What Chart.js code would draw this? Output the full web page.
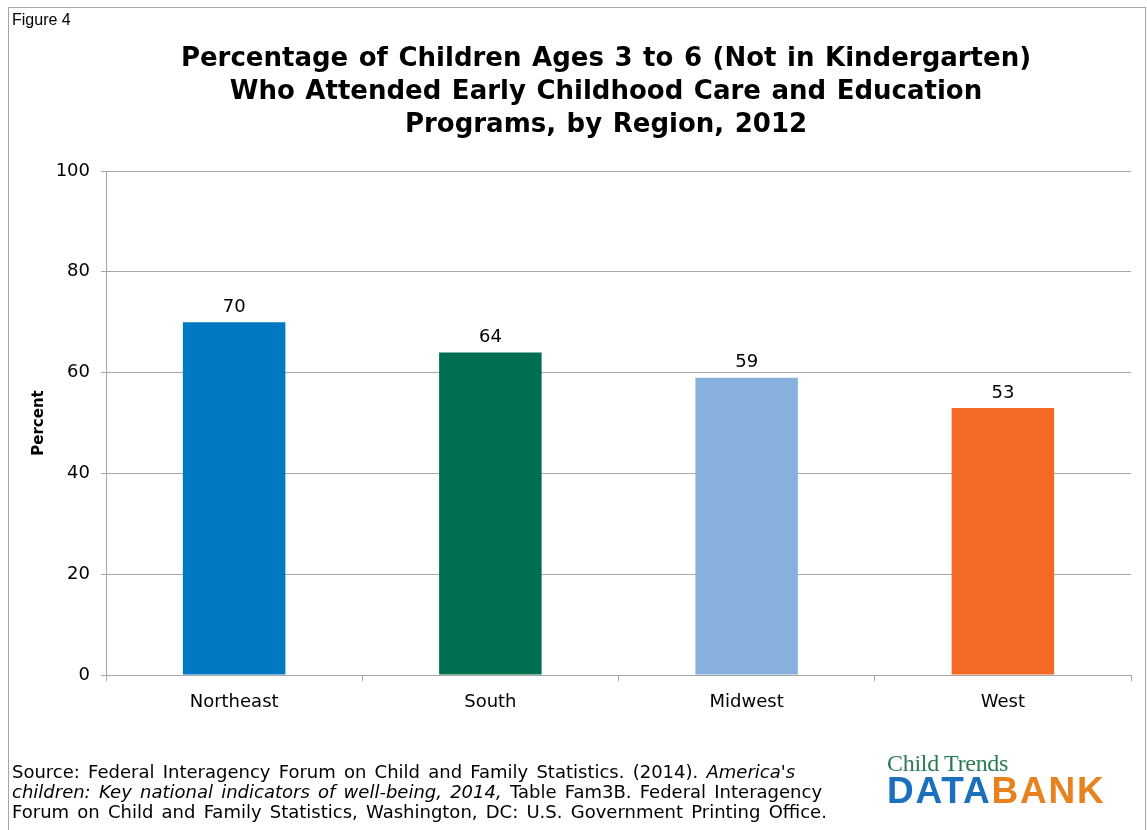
<!DOCTYPE html>
<html>
<head>
<meta charset="utf-8">
<script src="https://cdn.jsdelivr.net/npm/chart.js@4"></script>
<style>
  body { margin: 0; background: #fff; }
  #wrap { position: relative; width: 1147px; height: 830px; overflow: hidden; }
  #frame { position: absolute; left: 8px; top: 7px; width: 1138px; height: 900px; border: 1px solid #a6a6a6; box-sizing: border-box; }
  #fig { position: absolute; left: 12px; top: 11px; font: 16px "Liberation Sans", Arial, sans-serif; color: #000; }
  #title { position: absolute; left: 106px; width: 1000px; top: 41px; text-align: center; font: bold 26px "DejaVu Sans", Verdana, sans-serif; line-height: 33px; word-spacing: 1.5px; color: #000; white-space: nowrap; }
  #source { position: absolute; left: 12px; top: 762px; font: 18px "DejaVu Sans", Verdana, sans-serif; line-height: 20px; word-spacing: 2.5px; color: #000; white-space: nowrap; }
  #logo { position: absolute; left: 887px; top: 751px; }
  #logo .ct { font: 24px "Liberation Serif", serif; color: #2b7a55; line-height: 24px; letter-spacing: -0.3px; }
  #logo .db { font: bold 37px "Liberation Sans", Arial, sans-serif; line-height: 31px; letter-spacing: 1.8px; }
  #logo .db .a { color: #1c6fbd; }
  #logo .db .b { color: #e8821e; }
  canvas { position: absolute; left: 0; top: 0; }
</style>
</head>
<body>
<div id="wrap">
  <canvas id="regionChart" width="1147" height="830"></canvas>
  <div id="frame"></div>
  <div id="fig">Figure 4</div>
  <div id="title">Percentage of Children Ages 3 to 6 (Not in Kindergarten)<br>Who Attended Early Childhood Care and Education<br>Programs, by Region, 2012</div>
  <div id="source">Source: Federal Interagency Forum on Child and Family Statistics. (2014). <i>America's</i><br><i>children: Key national indicators of well-being, 2014,</i> Table Fam3B. Federal Interagency<br>Forum on Child and Family Statistics, Washington, DC: U.S. Government Printing Office.</div>
  <div id="logo"><div class="ct">Child Trends</div><div class="db"><span class="a">DATA</span><span class="b">BANK</span></div></div>
</div>
<script>
const regions = ["Northeast", "South", "Midwest", "West"];
const percents = [70, 64, 59, 53];
const barColors = ["#0079c2", "#006e51", "#88b0dc", "#f26a23"];

Chart.defaults.font.family = "'DejaVu Sans', Verdana, sans-serif";
Chart.defaults.color = "#000";

// value labels above each bar
const barValues = {
  id: "barValues",
  afterDatasetsDraw(chart) {
    const ctx = chart.ctx;
    const meta = chart.getDatasetMeta(0);
    ctx.save();
    ctx.font = "18px 'DejaVu Sans', sans-serif";
    ctx.fillStyle = "#000";
    ctx.textAlign = "center";
    ctx.textBaseline = "bottom";
    meta.data.forEach((bar, i) => {
      ctx.fillText(percents[i], bar.x, bar.y - 6);
    });
    ctx.restore();
  },
};

let regionctx = document.getElementById("regionChart").getContext("2d");
new Chart(regionctx, {
  type: "bar",
  data: {
    labels: regions,
    datasets: [
      {
        label: "Percent",
        data: percents,
        backgroundColor: barColors,
        barPercentage: 0.4,
        categoryPercentage: 1,
      },
    ],
  },
  options: {
    responsive: false,
    animation: false,
    layout: { padding: { left: 18, right: 16, top: 171, bottom: 116 } },
    plugins: {
      legend: { display: false },
      tooltip: { enabled: false },
    },
    scales: {
      x: {
        grid: {
          display: true,
          drawOnChartArea: false,
          offset: true,
          tickLength: 6,
          color: "#a6a6a6",
        },
        border: { color: "#a6a6a6" },
        ticks: { font: { size: 18 }, padding: 11 },
        afterFit(scale) { scale.height = 39; },
      },
      y: {
        min: 0,
        max: 100,
        ticks: { stepSize: 20, font: { size: 18 }, padding: 11 },
        grid: { color: "#a6a6a6", tickLength: 5 },
        border: { color: "#a6a6a6" },
        title: {
          display: true,
          text: "Percent",
          font: { size: 15, weight: "bold" },
          padding: { top: 12, bottom: 0 },
        },
        afterFit(scale) { scale.width = 88; },
      },
    },
  },
  plugins: [barValues],
});
</script>
</body>
</html>
